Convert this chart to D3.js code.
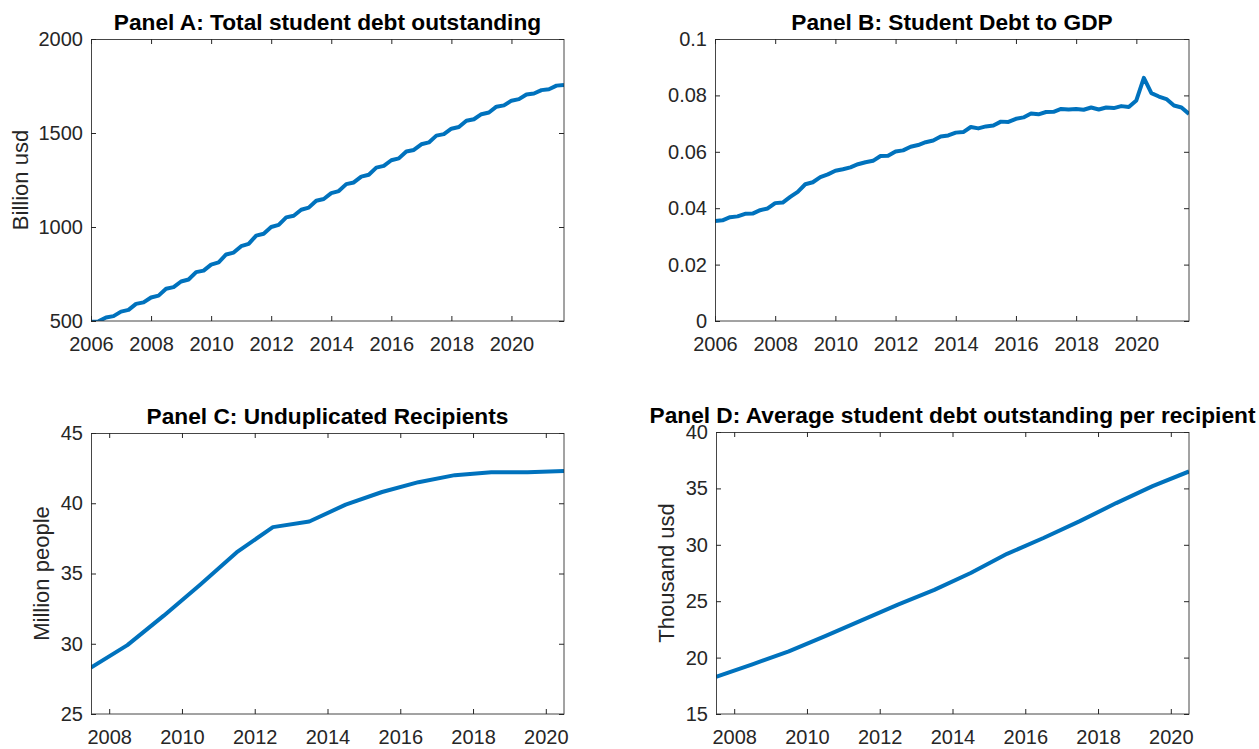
<!DOCTYPE html>
<html>
<head>
<meta charset="utf-8">
<script src="https://cdn.jsdelivr.net/npm/d3@7"></script>
<style>
  html, body { margin: 0; padding: 0; background: #ffffff; }
  svg { display: block; }
  text { font-family: "Liberation Sans", Arial, Helvetica, sans-serif; }
</style>
</head>
<body>
<svg id="chart" width="1259" height="749"></svg>
<script>
// ---------------- DATA ----------------
const quarterStart = 2006;           // first quarter of Panels A & B (2006Q1 .. 2021Q4)
// Panel A: total student debt outstanding, billion usd (quarterly)
const debtTotal = [
  496, 498, 519, 526,   550, 559, 591, 599,   625, 635, 672, 680,   710, 721, 760, 768,
  800, 812, 854, 864,   898, 910, 954, 964,   1000, 1011, 1051, 1060, 1092, 1103, 1140, 1149,
  1180, 1191, 1228, 1237, 1268, 1278, 1316, 1325, 1355, 1365, 1402, 1410, 1440, 1450, 1486, 1494,
  1523, 1532, 1565, 1573, 1600, 1609, 1640, 1647, 1672, 1680, 1705, 1710, 1728, 1733, 1752, 1755
];
// Panel B: student debt to GDP (quarterly)
const debtToGdp = [
  0.0355, 0.0357, 0.0368, 0.0371, 0.0380, 0.0381, 0.0393, 0.0399,
  0.0418, 0.0420, 0.0440, 0.0458, 0.0485, 0.0492, 0.0510, 0.0520,
  0.0533, 0.0538, 0.0545, 0.0556, 0.0563, 0.0568, 0.0585, 0.0586,
  0.0601, 0.0605, 0.0618, 0.0624, 0.0634, 0.0640, 0.0654, 0.0658,
  0.0668, 0.0670, 0.0688, 0.0683, 0.0690, 0.0693, 0.0707, 0.0706,
  0.0717, 0.0722, 0.0736, 0.0733, 0.0741, 0.0742, 0.0752, 0.0750,
  0.0752, 0.0749, 0.0757, 0.0750, 0.0757, 0.0755, 0.0762, 0.0759,
  0.0782, 0.0862, 0.0808, 0.0796, 0.0787, 0.0764, 0.0757, 0.0734
];
// Panels C & D: fiscal years (mid-year)
const fiscalYears = [2007.5, 2008.5, 2009.5, 2010.5, 2011.5, 2012.5, 2013.5,
                     2014.5, 2015.5, 2016.5, 2017.5, 2018.5, 2019.5, 2020.5];
// Panel C: unduplicated recipients, million people
const recipients = [28.3, 29.9, 32.0, 34.2, 36.5, 38.3, 38.7, 39.9, 40.8, 41.5, 42.0, 42.2, 42.2, 42.3];
// Panel D: average student debt outstanding per recipient, thousand usd
const avgDebt = [18.3, 19.4, 20.55, 21.9, 23.3, 24.7, 26.0, 27.5, 29.2, 30.6, 32.1, 33.7, 35.2, 36.5];

// Tick values
const yearTicksAB = [2006, 2008, 2010, 2012, 2014, 2016, 2018, 2020];
const yearTicksCD = [2008, 2010, 2012, 2014, 2016, 2018, 2020];
const yTicksA = [500, 1000, 1500, 2000];
const yTicksB = [0, 0.02, 0.04, 0.06, 0.08, 0.1];
const yTicksC = [25, 30, 35, 40, 45];
const yTicksD = [15, 20, 25, 30, 35, 40];

// Titles & labels
const titles = [
  "Panel A: Total student debt outstanding",
  "Panel B: Student Debt to GDP",
  "Panel C: Unduplicated Recipients",
  "Panel D: Average student debt outstanding per recipient"
];
const yLabels = ["Billion usd", null, "Million people", "Thousand usd"];

// ---------------- DRAW ----------------
const quarters = debtTotal.map((d, i) => quarterStart + i / 4);

const LINE_COLOR = "#0072BD";
const AXIS_COLOR = "#262626";
const svg = d3.select("#chart");

const panels = [
  { box: [91, 39, 564, 321], xDom: [2006, 2021.75], yDom: [500, 2000], xTicks: yearTicksAB, yTicks: yTicksA,
    xs: quarters, ys: debtTotal, title: titles[0], yLabel: yLabels[0], labelX: 28 },
  { box: [715, 39, 1189, 321], xDom: [2006, 2021.75], yDom: [0, 0.1], xTicks: yearTicksAB, yTicks: yTicksB,
    xs: quarters, ys: debtToGdp, title: titles[1], yLabel: yLabels[1] },
  { box: [91, 433, 564, 714], xDom: [2007.5, 2020.5], yDom: [25, 45], xTicks: yearTicksCD, yTicks: yTicksC,
    xs: fiscalYears, ys: recipients, title: titles[2], yLabel: yLabels[2], labelX: 49 },
  { box: [716, 432, 1189, 714], xDom: [2007.5, 2020.5], yDom: [15, 40], xTicks: yearTicksCD, yTicks: yTicksD,
    xs: fiscalYears, ys: avgDebt, title: titles[3], yLabel: yLabels[3], labelX: 674 }
];

const fmt = v => d3.format("~g")(v);

panels.forEach((p, idx) => {
  const [x0, y0, x1, y1] = p.box;
  const w = x1 - x0, h = y1 - y0;
  const g = svg.append("g").attr("transform", `translate(${x0},${y0})`);
  const x = d3.scaleLinear().domain(p.xDom).range([0, w]);
  const y = d3.scaleLinear().domain(p.yDom).range([h, 0]);

  g.append("rect").attr("width", w).attr("height", h).attr("fill", "#ffffff");

  const clipId = "clip" + idx;
  g.append("clipPath").attr("id", clipId)
    .append("rect").attr("width", w).attr("height", h);

  const pts = p.xs.map((xv, i) => [xv, p.ys[i]]);
  g.append("path")
    .datum(pts)
    .attr("clip-path", `url(#${clipId})`)
    .attr("fill", "none")
    .attr("stroke", LINE_COLOR)
    .attr("stroke-width", 4)
    .attr("stroke-linejoin", "round")
    .attr("d", d3.line().x(d => x(d[0])).y(d => y(d[1])));

  // bottom axis with labels
  const bx = g.append("g").attr("transform", `translate(0,${h})`)
    .call(d3.axisBottom(x).tickValues(p.xTicks).tickFormat(d3.format("d"))
      .tickSizeInner(-5).tickSizeOuter(0).tickPadding(16));
  // top mirrored ticks
  const tx = g.append("g")
    .call(d3.axisTop(x).tickValues(p.xTicks).tickFormat("")
      .tickSizeInner(-5).tickSizeOuter(0));
  // left axis with labels
  const ly = g.append("g")
    .call(d3.axisLeft(y).tickValues(p.yTicks).tickFormat(fmt)
      .tickSizeInner(-5).tickSizeOuter(0).tickPadding(8));
  // right mirrored ticks
  const ry = g.append("g").attr("transform", `translate(${w},0)`)
    .call(d3.axisRight(y).tickValues(p.yTicks).tickFormat("")
      .tickSizeInner(-5).tickSizeOuter(0));

  [bx, tx, ly, ry].forEach(a => {
    a.select(".domain").remove();
    a.selectAll(".tick line").attr("stroke", AXIS_COLOR).attr("stroke-width", 1);
    a.selectAll(".tick text").attr("fill", AXIS_COLOR)
      .style("font-size", "20px")
      .style("font-family", "'Liberation Sans', Arial, Helvetica, sans-serif");
  });

  // box
  g.append("rect").attr("x", 0.5).attr("y", 0.5).attr("width", w - 0.5).attr("height", h - 0.5)
    .attr("fill", "none").attr("stroke", AXIS_COLOR).attr("stroke-width", 1).attr("opacity", 0.85);

  // title
  svg.append("text")
    .attr("x", x0 + w / 2).attr("y", y0 - 9)
    .attr("text-anchor", "middle")
    .attr("fill", "#000000")
    .style("font-size", "22.7px").style("font-weight", "bold")
    .text(p.title);

  // y label
  if (p.yLabel) {
    const cy = y0 + h / 2;
    svg.append("text")
      .attr("transform", `translate(${p.labelX},${cy}) rotate(-90)`)
      .attr("text-anchor", "middle")
      .attr("fill", AXIS_COLOR)
      .style("font-size", "22px")
      .text(p.yLabel);
  }
});
</script>
</body>
</html>
